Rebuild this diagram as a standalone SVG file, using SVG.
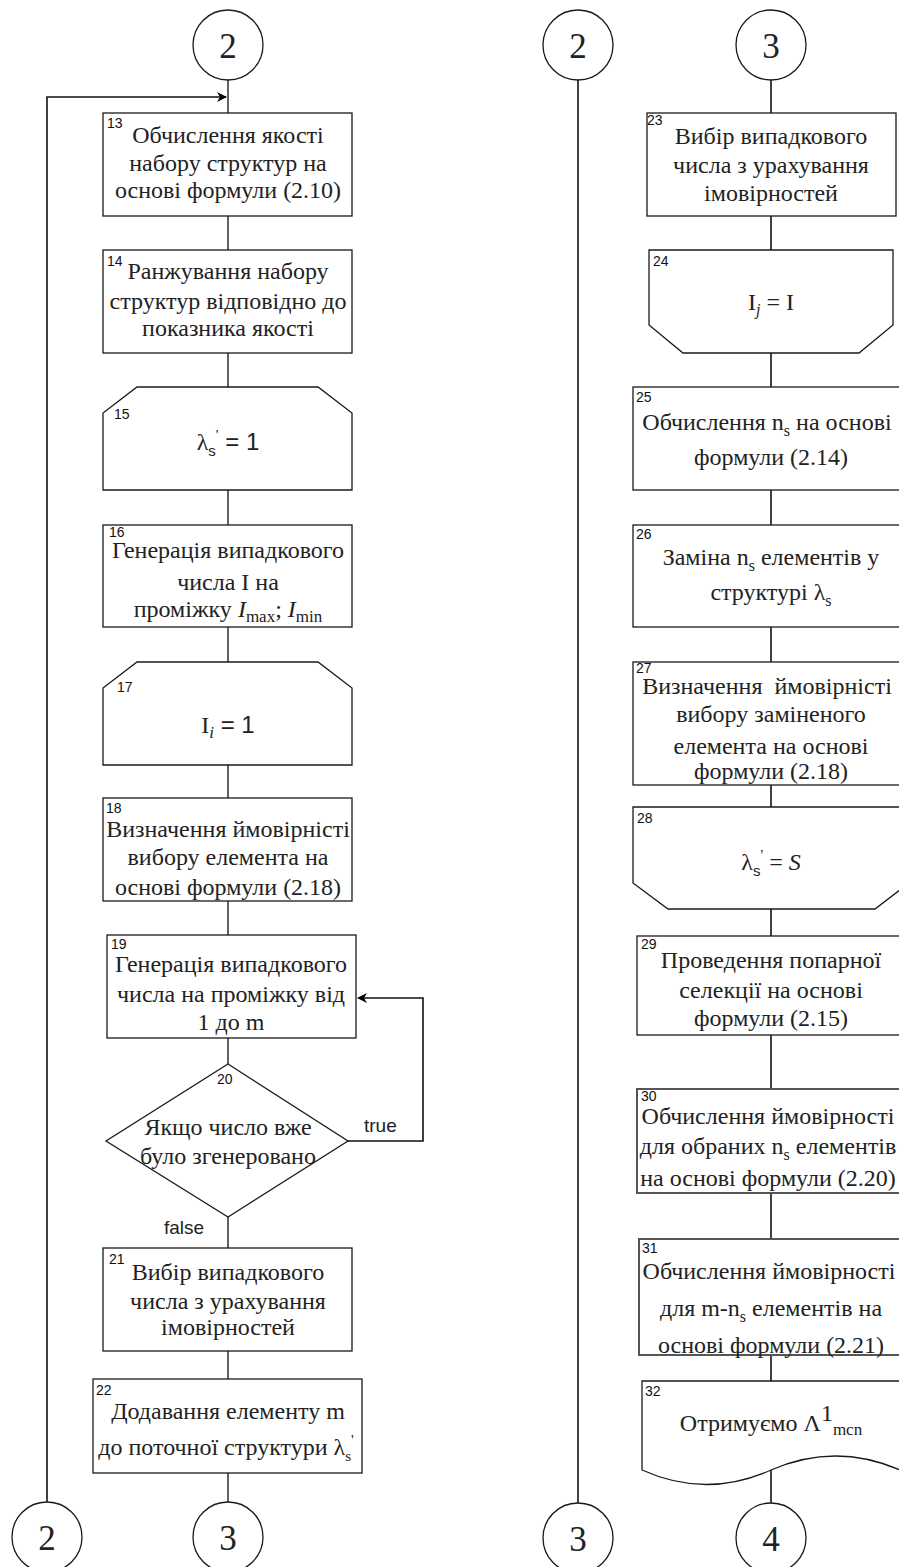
<svg xmlns="http://www.w3.org/2000/svg" width="899" height="1567" viewBox="0 0 899 1567">
  <defs>
    <marker id="arrow" viewBox="0 0 10 10" refX="9" refY="5" markerWidth="10" markerHeight="10" markerUnits="userSpaceOnUse" orient="auto">
      <path d="M0,0 L10,5 L0,10 L3,5 Z" fill="#000"/>
    </marker>
    <style>
      .shape { fill: #fff; stroke: #1a1a1a; stroke-width: 1.3; }
      .conn { fill: none; stroke: #3a3a3a; stroke-width: 1.6; }
      .dark { stroke: #111; }
      .txt { font-family: "Liberation Serif", "Times New Roman", serif; font-size: 24px; fill: #222; text-anchor: middle; }
      .num { font-family: "Liberation Sans", Arial, sans-serif; font-size: 14px; fill: #111; }
      .lbl { font-family: "Liberation Sans", Arial, sans-serif; font-size: 19px; fill: #222; }
      .sans { font-family: "Liberation Sans", Arial, sans-serif; }
      .con { font-family: "Liberation Serif", "Times New Roman", serif; font-size: 35px; fill: #222; text-anchor: middle; }
    </style>
  </defs>

  <rect width="899" height="1567" fill="#fff"/>

  <!-- connectors -->
  <g id="connectors">
    <!-- left column main flow -->
    <line class="conn" x1="228" y1="80" x2="228" y2="113"/>
    <line class="conn" x1="228" y1="216" x2="228" y2="250"/>
    <line class="conn" x1="228" y1="353" x2="228" y2="387"/>
    <line class="conn" x1="228" y1="490" x2="228" y2="525"/>
    <line class="conn" x1="228" y1="627" x2="228" y2="662"/>
    <line class="conn" x1="228" y1="765" x2="228" y2="798"/>
    <line class="conn" x1="228" y1="901" x2="228" y2="935"/>
    <line class="conn" x1="228" y1="1038" x2="228" y2="1064"/>
    <line class="conn" x1="228" y1="1217" x2="228" y2="1248"/>
    <line class="conn" x1="228" y1="1351" x2="228" y2="1379"/>
    <line class="conn" x1="228" y1="1473" x2="228" y2="1502"/>
    <!-- return loop from connector 2 -->
    <polyline class="conn dark" points="47,1502 47,97 226,97" marker-end="url(#arrow)"/>
    <!-- repeat loop of decision 20 -->
    <polyline class="conn dark" points="348,1141 423,1141 423,998 358,998" marker-end="url(#arrow)"/>
    <!-- right side: pass-through 2 -->
    <line class="conn dark" x1="578" y1="80" x2="578" y2="1503"/>
    <!-- right column main flow -->
    <line class="conn dark" x1="771" y1="80" x2="771" y2="113"/>
    <line class="conn dark" x1="771" y1="216" x2="771" y2="250"/>
    <line class="conn dark" x1="771" y1="353" x2="771" y2="387"/>
    <line class="conn dark" x1="771" y1="490" x2="771" y2="525"/>
    <line class="conn dark" x1="771" y1="627" x2="771" y2="662"/>
    <line class="conn dark" x1="771" y1="785" x2="771" y2="807"/>
    <line class="conn dark" x1="771" y1="909" x2="771" y2="936"/>
    <line class="conn dark" x1="771" y1="1035" x2="771" y2="1089"/>
    <line class="conn dark" x1="771" y1="1193" x2="771" y2="1239"/>
    <line class="conn dark" x1="771" y1="1355" x2="771" y2="1381"/>
    <line class="conn dark" x1="771" y1="1470" x2="771" y2="1503"/>
  </g>

  <!-- off-page connectors -->
  <g id="c2-top">
    <circle class="shape" cx="228" cy="45" r="35"/>
    <text class="con" x="228" y="58">2</text>
  </g>
  <g id="c2-bottom">
    <circle class="shape" cx="47" cy="1537" r="35"/>
    <text class="con" x="47" y="1550">2</text>
  </g>
  <g id="c3-bottom">
    <circle class="shape" cx="228" cy="1537" r="35"/>
    <text class="con" x="228" y="1550">3</text>
  </g>
  <g id="c2-right-top">
    <circle class="shape" cx="578" cy="45" r="35"/>
    <text class="con" x="578" y="58">2</text>
  </g>
  <g id="c3-right-top">
    <circle class="shape" cx="771" cy="45" r="35"/>
    <text class="con" x="771" y="58">3</text>
  </g>
  <g id="c3-right-bottom">
    <circle class="shape" cx="578" cy="1538" r="35"/>
    <text class="con" x="578" y="1551">3</text>
  </g>
  <g id="c4-bottom">
    <circle class="shape" cx="771" cy="1538" r="35"/>
    <text class="con" x="771" y="1551">4</text>
  </g>

  <!-- left column -->
  <g id="n13">
    <rect class="shape" x="103" y="113" width="249" height="103"/>
    <text class="num" x="107" y="128">13</text>
    <text class="txt" x="228" y="143">Обчислення якості</text>
    <text class="txt" x="228" y="171">набору структур на</text>
    <text class="txt" x="228" y="198">основі формули (2.10)</text>
  </g>
  <g id="n14">
    <rect class="shape" x="103" y="250" width="249" height="103"/>
    <text class="num" x="107" y="266">14</text>
    <text class="txt" x="228" y="279">Ранжування набору</text>
    <text class="txt" x="228" y="309">структур відповідно до</text>
    <text class="txt" x="228" y="336">показника якості</text>
  </g>
  <g id="n15">
    <polygon class="shape" points="137,387 318,387 352,413 352,490 103,490 103,413"/>
    <text class="num" x="114" y="419">15</text>
    <text class="txt" x="228" y="450">λ<tspan class="sans" font-size="15" dy="6">s</tspan><tspan font-size="15" dy="-16">'</tspan><tspan class="sans" dy="10"> = 1</tspan></text>
  </g>
  <g id="n16">
    <rect class="shape" x="103" y="525" width="249" height="102"/>
    <text class="num" x="109" y="537">16</text>
    <text class="txt" x="228" y="558">Генерація випадкового</text>
    <text class="txt" x="228" y="590">числа I на</text>
    <text class="txt" x="228" y="617">проміжку <tspan font-style="italic">I</tspan><tspan font-size="17" dy="5">max</tspan><tspan dy="-5">; </tspan><tspan font-style="italic">I</tspan><tspan font-size="17" dy="5">min</tspan></text>
  </g>
  <g id="n17">
    <polygon class="shape" points="137,662 318,662 352,688 352,765 103,765 103,688"/>
    <text class="num" x="117" y="692">17</text>
    <text class="txt" x="228" y="733">I<tspan font-size="17" font-style="italic" dy="5">i</tspan><tspan class="sans" dy="-5">  = 1</tspan></text>
  </g>
  <g id="n18">
    <rect class="shape" x="103" y="798" width="249" height="103"/>
    <text class="num" x="106" y="813">18</text>
    <text class="txt" x="228" y="837">Визначення ймовірністі</text>
    <text class="txt" x="228" y="865">вибору елемента на</text>
    <text class="txt" x="228" y="895">основі формули (2.18)</text>
  </g>
  <g id="n19">
    <rect class="shape" x="107" y="935" width="249" height="103"/>
    <text class="num" x="111" y="949">19</text>
    <text class="txt" x="231" y="972">Генерація випадкового</text>
    <text class="txt" x="231" y="1002">числа на проміжку від</text>
    <text class="txt" x="231" y="1030">1 до m</text>
  </g>
  <g id="n20">
    <polygon class="shape" points="228,1064 348,1141 228,1217 106,1141"/>
    <text class="num" x="217" y="1084">20</text>
    <text class="txt" x="228" y="1135">Якщо число вже</text>
    <text class="txt" x="228" y="1164">було згенеровано</text>
    <text class="lbl" x="364" y="1132">true</text>
    <text class="lbl" x="164" y="1234">false</text>
  </g>
  <g id="n21">
    <rect class="shape" x="103" y="1248" width="249" height="103"/>
    <text class="num" x="109" y="1264">21</text>
    <text class="txt" x="228" y="1280">Вибір випадкового</text>
    <text class="txt" x="228" y="1309">числа з урахування</text>
    <text class="txt" x="228" y="1335">імовірностей</text>
  </g>
  <g id="n22">
    <rect class="shape" x="93" y="1379" width="269" height="94"/>
    <text class="num" x="96" y="1395">22</text>
    <text class="txt" x="228" y="1419">Додавання елементу m</text>
    <text class="txt" x="226" y="1455">до поточної структури λ<tspan font-size="15" dy="6">s</tspan><tspan font-size="15" dy="-16">'</tspan></text>
  </g>

  <!-- right column -->
  <g id="n23">
    <rect class="shape" x="647" y="113" width="249" height="103"/>
    <text class="num" x="647" y="125">23</text>
    <text class="txt" x="771" y="144">Вибір випадкового</text>
    <text class="txt" x="771" y="173">числа з урахування</text>
    <text class="txt" x="771" y="201">імовірностей</text>
  </g>
  <g id="n24">
    <polygon class="shape" points="649,250 893,250 893,325 859,353 683,353 649,325"/>
    <text class="num" x="653" y="266">24</text>
    <text class="txt" x="771" y="310">I<tspan font-size="16" font-style="italic" dy="5">j</tspan><tspan dy="-5"> = I</tspan></text>
  </g>
  <g id="n25">
    <rect class="shape" x="633" y="387" width="276" height="103"/>
    <text class="num" x="636" y="402">25</text>
    <text class="txt" x="767" y="430">Обчислення n<tspan font-size="16" dy="6">s</tspan><tspan dy="-6"> на основі</tspan></text>
    <text class="txt" x="771" y="465">формули (2.14)</text>
  </g>
  <g id="n26">
    <rect class="shape" x="633" y="525" width="276" height="102"/>
    <text class="num" x="636" y="539">26</text>
    <text class="txt" x="771" y="565">Заміна n<tspan font-size="16" dy="6">s</tspan><tspan dy="-6"> елементів у</tspan></text>
    <text class="txt" x="771" y="600">структурі λ<tspan font-size="16" dy="6">s</tspan></text>
  </g>
  <g id="n27">
    <rect class="shape" x="633" y="662" width="276" height="123"/>
    <text class="num" x="636" y="673">27</text>
    <text class="txt" x="767" y="694" xml:space="preserve">Визначення  ймовірністі</text>
    <text class="txt" x="771" y="722">вибору заміненого</text>
    <text class="txt" x="771" y="754">елемента на основі</text>
    <text class="txt" x="771" y="779">формули (2.18)</text>
  </g>
  <g id="n28">
    <polygon class="shape" points="633,807 909,807 909,883 875,909 668,909 633,883"/>
    <text class="num" x="637" y="823">28</text>
    <text class="txt" x="771" y="870">λ<tspan class="sans" font-size="15" dy="6">s</tspan><tspan font-size="15" dy="-16">'</tspan><tspan dy="10"> = </tspan><tspan font-style="italic">S</tspan></text>
  </g>
  <g id="n29">
    <rect class="shape" x="637" y="936" width="268" height="99"/>
    <text class="num" x="641" y="949">29</text>
    <text class="txt" x="771" y="968">Проведення попарної</text>
    <text class="txt" x="771" y="998">селекції на основі</text>
    <text class="txt" x="771" y="1026">формули (2.15)</text>
  </g>
  <g id="n30">
    <rect class="shape" x="637" y="1089" width="268" height="104" style="stroke:#555;stroke-width:2"/>
    <text class="num" x="641" y="1101">30</text>
    <text class="txt" x="768" y="1124">Обчислення ймовірності</text>
    <text class="txt" x="768" y="1154">для обраних n<tspan font-size="16" dy="6">s</tspan><tspan dy="-6"> елементів</tspan></text>
    <text class="txt" x="768" y="1186">на основі формули (2.20)</text>
  </g>
  <g id="n31">
    <rect class="shape" x="639" y="1239" width="266" height="116" style="stroke:#555;stroke-width:2"/>
    <text class="num" x="642" y="1253">31</text>
    <text class="txt" x="769" y="1279">Обчислення ймовірності</text>
    <text class="txt" x="771" y="1316">для m-n<tspan font-size="16" dy="6">s</tspan><tspan dy="-6"> елементів на</tspan></text>
    <text class="txt" x="771" y="1353">основі формули (2.21)</text>
  </g>
  <g id="n32">
    <path class="shape" d="M642,1381 L900,1381 L900,1470 Q835.5,1442 771,1470 Q706.5,1499 642,1470 Z"/>
    <text class="num" x="645" y="1396">32</text>
    <text class="txt" x="771" y="1431">Отримуємо Λ<tspan dy="-10">1</tspan><tspan font-size="17" dy="14">mcn</tspan></text>
  </g>
</svg>
